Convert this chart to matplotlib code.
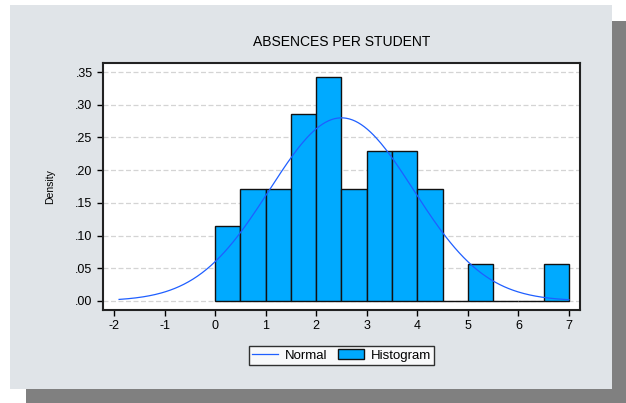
import numpy as np
import matplotlib.pyplot as plt
from matplotlib.patches import Rectangle

plt.rcParams['font.family'] = ['Liberation Sans', 'DejaVu Sans']

# histogram bins (width 0.5) and densities
bin_left = [0.0, 0.5, 1.0, 1.5, 2.0, 2.5, 3.0, 3.5, 4.0, 4.5, 5.0, 5.5, 6.0, 6.5]
density = [0.1143, 0.1714, 0.1714, 0.2857, 0.3429, 0.1714, 0.2286, 0.2286,
           0.1714, 0.0, 0.0571, 0.0, 0.0, 0.0571]
bin_width = 0.5

# fitted normal
mu = 2.5
sigma = 1.425
x_from, x_to = -1.9, 7.0

yticks = [0.00, 0.05, 0.10, 0.15, 0.20, 0.25, 0.30, 0.35]
ytick_labels = ['.00', '.05', '.10', '.15', '.20', '.25', '.30', '.35']
xticks = [-2, -1, 0, 1, 2, 3, 4, 5, 6, 7]

W, H = 626, 403
fig = plt.figure(figsize=(W / 100, H / 100), dpi=100, facecolor='white')

# drop shadow and panel
fig.patches.append(Rectangle((26 / W, 0), 600 / W, 1 - 21 / H, transform=fig.transFigure,
                             facecolor='#808080', edgecolor='none', zorder=-10))
fig.patches.append(Rectangle((10 / W, 1 - 389 / H), 602 / W, 384 / H, transform=fig.transFigure,
                             facecolor='#e0e4e8', edgecolor='none', zorder=-9))

ax = fig.add_axes([103 / W, 1 - 310 / H, 477 / W, 247 / H])
ax.set_facecolor('white')

ax.bar(bin_left, density, width=bin_width, align='edge', color='#00aaff',
       edgecolor='#111111', linewidth=1.0, label='Histogram', zorder=3)

xs = np.linspace(x_from, x_to, 300)
pdf = np.exp(-0.5 * ((xs - mu) / sigma) ** 2) / (sigma * np.sqrt(2 * np.pi))
ax.plot(xs, pdf, color='#1f5fff', linewidth=0.9, label='Normal', zorder=4)

ax.set_xlim(-2.218, 7.218)
ax.set_ylim(-0.0138, 0.3638)
ax.set_xticks(xticks)
ax.set_xticklabels([str(t) for t in xticks])
ax.set_yticks(yticks)
ax.set_yticklabels(ytick_labels)
ax.tick_params(axis='both', direction='out', length=4, width=1, labelsize=9, colors='black')
ax.yaxis.grid(True, linestyle=(0, (4, 2)), color='#d4d4d4', linewidth=0.9, zorder=0)
for s in ax.spines.values():
    s.set_linewidth(1.5)
    s.set_color('#222222')

ax.set_ylabel('Density', fontsize=7.5)
ax.yaxis.set_label_coords(-0.1, 0.5)
ax.set_title('ABSENCES PER STUDENT', fontsize=10, pad=12)

leg = ax.legend(loc='upper center', bbox_to_anchor=(0.5, -0.145),
                ncol=2, frameon=True, fancybox=False, fontsize=9.5, handlelength=2.0,
                handleheight=0.8, columnspacing=0.8, borderpad=0.25, handletextpad=0.5,
                borderaxespad=0)
leg.get_frame().set_edgecolor('black')
leg.get_frame().set_linewidth(1.0)

fig.savefig('out.png', dpi=100, facecolor=fig.get_facecolor())
